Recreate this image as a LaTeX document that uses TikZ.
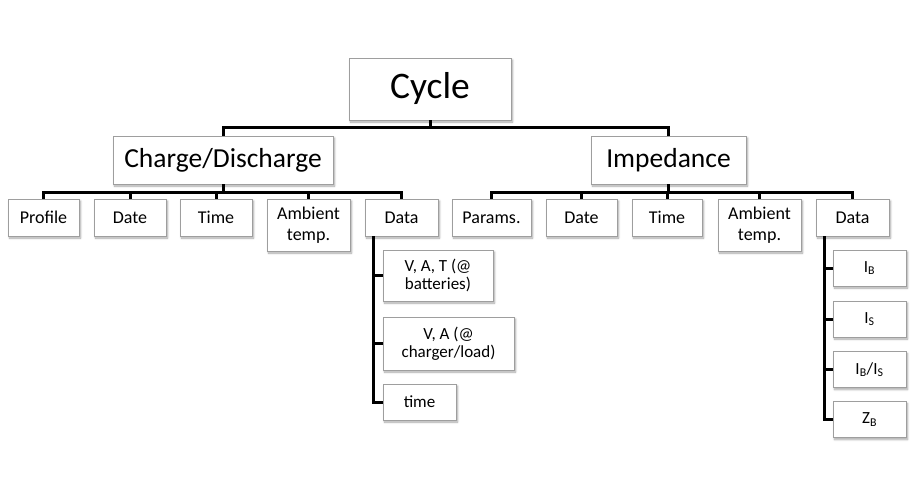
\documentclass[tikz,border=0pt]{standalone}
\usepackage{fontspec}
\setmainfont{Carlito}
\usetikzlibrary{shadows.blur}
\begin{document}
\begin{tikzpicture}[x=1pt,y=-1pt,
  box/.style={draw=black!38, fill=white, line width=0.8pt, align=center, inner sep=0pt,
    blur shadow={shadow xshift=1.5pt, shadow yshift=-2pt, shadow blur radius=2pt, shadow blur steps=6, shadow opacity=35}},
  lvone/.style={box, font=\fontsize{37.5}{44}\selectfont},
  lvtwo/.style={box, font=\fontsize{27.5}{33}\selectfont},
  lvthree/.style={box, font=\fontsize{18}{21.5}\selectfont},
  lvfour/.style={box, font=\fontsize{17}{18.5}\selectfont},
  conn/.style={draw=black, line width=3pt}]
\useasboundingbox (0,0) rectangle (912,495);
% level 1
\node[lvone, minimum width=162, minimum height=62] (cycle) at (430,89) {Cycle};
% level 2
\node[lvtwo, minimum width=220, minimum height=48] (cd) at (223,160) {Charge/Discharge};
\node[lvtwo, minimum width=155, minimum height=48] (imp) at (668.5,160) {Impedance};
% level 3 left
\node[lvthree, minimum width=71, minimum height=37] (profile) at (43.5,217.5) {Profile};
\node[lvthree, minimum width=72, minimum height=37] (ldate) at (130,217.5) {Date};
\node[lvthree, minimum width=72, minimum height=37] (ltime) at (216,217.5) {Time};
\node[lvthree, minimum width=83, minimum height=52] (lamb) at (308.5,225) {Ambient\\temp.};
\node[lvthree, minimum width=73, minimum height=37] (ldata) at (401.5,217.5) {Data};
% level 3 right
\node[lvthree, minimum width=79, minimum height=37] (params) at (491.5,217.5) {Params.};
\node[lvthree, minimum width=71, minimum height=37] (rdate) at (581.5,217.5) {Date};
\node[lvthree, minimum width=70, minimum height=37] (rtime) at (667,217.5) {Time};
\node[lvthree, minimum width=83, minimum height=52] (ramb) at (759.5,225) {Ambient\\temp.};
\node[lvthree, minimum width=73, minimum height=37] (rdata) at (852.5,217.5) {Data};
% left data children
\node[lvfour, minimum width=110, minimum height=51] (vat) at (438,275.5) {V, A, T (@\\batteries)};
\node[lvfour, minimum width=131, minimum height=53] (va) at (448.5,343.5) {V, A (@\\charger/load)};
\node[lvfour, minimum width=73, minimum height=36] (tm) at (419.5,402) {time};
% right data children
\node[lvfour, minimum width=73, minimum height=36] (ib) at (869.5,268) {I\textsubscript{B}};
\node[lvfour, minimum width=73, minimum height=36] (is) at (869.5,319) {I\textsubscript{S}};
\node[lvfour, minimum width=73, minimum height=36] (ibis) at (869.5,369.5) {I\textsubscript{B}/I\textsubscript{S}};
\node[lvfour, minimum width=73, minimum height=36] (zb) at (869.5,419.5) {Z\textsubscript{B}};
% bus coordinates
\coordinate (bone) at (0,127);
\coordinate (btwo) at (0,192);
\coordinate (lx) at (373,0);
\coordinate (rx) at (824,0);
% connectors level 1-2
\draw[conn] (cycle.south) -- (cycle.south |- bone);
\draw[conn] (cd.north) -- (cd.north |- bone) -- (imp.north |- bone) -- (imp.north);
% connectors level 2-3 left
\draw[conn] (cd.south) -- (cd.south |- btwo);
\draw[conn] (profile.north) -- (profile.north |- btwo) -- (ldata.north |- btwo) -- (ldata.north);
\foreach \n in {ldate,ltime,lamb} \draw[conn] (\n.north) -- (\n.north |- btwo);
% connectors level 2-3 right
\draw[conn] (imp.south) -- (imp.south |- btwo);
\draw[conn] (params.north) -- (params.north |- btwo) -- (rdata.north |- btwo) -- (rdata.north);
\foreach \n in {rdate,rtime,ramb} \draw[conn] (\n.north) -- (\n.north |- btwo);
% data children left
\draw[conn] (ldata.south -| lx) |- (tm.west);
\draw[conn] (vat.west -| lx) -- (vat.west);
\draw[conn] (va.west -| lx) -- (va.west);
% data children right
\draw[conn] (rdata.south -| rx) |- (zb.west);
\foreach \n in {ib,is,ibis} \draw[conn] (\n.west -| rx) -- (\n.west);
\end{tikzpicture}
\end{document}
